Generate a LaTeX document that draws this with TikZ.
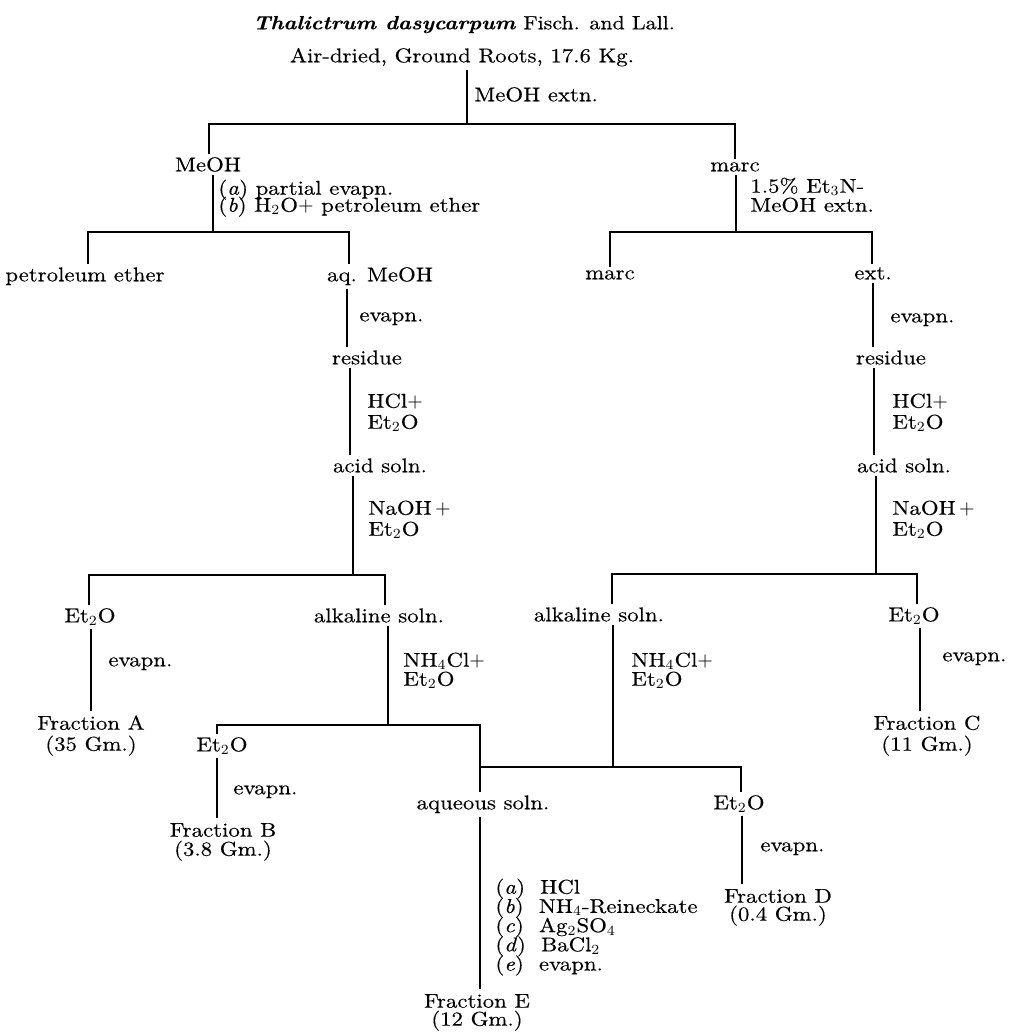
\documentclass[tikz,border=0pt]{standalone}
\usepackage{fontspec}
\setmainfont{lmroman10-regular.otf}[
  BoldFont=lmroman10-bold.otf,
  ItalicFont=lmroman10-italic.otf,
  BoldItalicFont=lmroman10-bolditalic.otf,
  FakeStretch=1.14,
  FakeBold=0.3]
\newcommand\myfirst{\rule{0pt}{7.5pt}}
\newcommand\mysp[1]{\fontsize{10}{#1}\selectfont\lineskiplimit=-100pt\relax}
\begin{document}
\begin{tikzpicture}[x=0.5pt,y=-0.5pt,
  every node/.style={inner sep=1.5pt, font=\fontsize{10}{12}\selectfont},
  lbl/.style={anchor=mid west, inner sep=0pt},
  txt/.style={anchor=mid},
  lab/.style={anchor=north west, align=left, inner sep=0pt, font=\mysp{#1}},
  frac/.style={anchor=north, align=center, inner sep=1.5pt, font=\mysp{#1}},
  ln/.style={line width=0.55pt}]
\useasboundingbox (0,0) rectangle (1009,1033);

% top
\node[txt, font=\fontsize{9.6}{12}\selectfont] (title) at (464,25) {\textbf{\textit{Thalictrum dasycarpum}} Fisch. and Lall.};
\node[txt] (air) at (462,58) {Air-dried, Ground Roots, 17.6 Kg.};
\node[lbl] (l1) at (474,97) {MeOH extn.};
\coordinate (b1) at (467,124);
\coordinate (b1L) at (209,124);
\coordinate (b1R) at (735,124);
\node[txt] (meoh1) at (208,167) {MeOH};
\node[txt] (marc1) at (735,167) {marc};
\draw[ln] (air.south -| b1) -- (b1);
\draw[ln] (meoh1.north -| b1L) -- (b1L) -- (b1R) -- (marc1.north -| b1R);

% left branch
\node[lab=8.5pt] (l2) at (218,179.3) {\myfirst(\textit{a}) partial evapn.\\(\textit{b}) H$_2$O$+$ petroleum ether};
\coordinate (b2) at (213,232);
\coordinate (b2L) at (88,232);
\coordinate (b2R) at (349,232);
\node[txt] (petrol) at (85,277) {petroleum ether};
\node[txt] (aqmeoh) at (380,277) {aq. MeOH};
\draw[ln] (meoh1.south -| b2) -- (b2);
\draw[ln] (petrol.north -| b2L) -- (b2L) -- (b2R) -- (aqmeoh.north -| b2R);

\node[lbl] (e1) at (359,317) {evapn.};
\node[txt] (res1) at (367,360) {residue};
\draw[ln] (aqmeoh.south -| 347,0) -- (res1.north -| 347,0);
\node[lab=10.5pt] (h1) at (367,392.3) {\myfirst HCl$+$\\Et$_2$O};
\node[txt] (acid1) at (380,468) {acid soln.};
\draw[ln] (res1.south -| 350,0) -- (acid1.north -| 350,0);
\node[lab=10.5pt] (n1) at (368,499.3) {\myfirst NaOH\,$+$\\Et$_2$O};
\coordinate (b4) at (353,575);
\coordinate (b4L) at (89,575);
\coordinate (b4R) at (385,575);
\node[txt] (et2oA) at (90,618) {Et$_2$O};
\node[txt] (alk1) at (379,618) {alkaline soln.};
\draw[ln] (acid1.south -| b4) -- (b4);
\draw[ln] (et2oA.north -| b4L) -- (b4L) -- (b4R) -- (alk1.north -| b4R);

\node[lbl] (e2) at (108,662) {evapn.};
\node[frac=10.5pt] (fracA) at (91,711.3) {\myfirst Fraction A\\(35 Gm.)};
\draw[ln] (et2oA.south -| 91,0) -- (fracA.north -| 91,0);

\node[lab=9.5pt] (k1) at (403,651.3) {\myfirst NH$_4$Cl$+$\\Et$_2$O};
\coordinate (b5) at (388,725);
\coordinate (b5L) at (217,725);
\coordinate (b5R) at (480,725);
\node[txt] (et2oB) at (222,747) {Et$_2$O};
\node[txt] (aq) at (483,805) {aqueous soln.};
\draw[ln] (alk1.south -| b5) -- (b5);
\draw[ln] (et2oB.north -| b5L) -- (b5L) -- (b5R) -- (aq.north -| b5R);

\node[lbl] (e3) at (233,790) {evapn.};
\node[frac=9.5pt] (fracB) at (223,818.3) {\myfirst Fraction B\\(3.8 Gm.)};
\draw[ln] (et2oB.south -| 217,0) -- (fracB.north -| 217,0);

% right branch
\node[lab=9.5pt] (l3) at (750,177.3) {\myfirst 1.5\% Et$_3$N-\\MeOH extn.};
\coordinate (b3) at (736,232);
\coordinate (b3L) at (610,232);
\coordinate (b3R) at (872,232);
\node[txt] (marc2) at (610,275) {marc};
\node[txt] (ext) at (873,275) {ext.};
\draw[ln] (marc1.south -| b3) -- (b3);
\draw[ln] (marc2.north -| b3L) -- (b3L) -- (b3R) -- (ext.north -| b3R);

\node[lbl] (e4) at (890,318) {evapn.};
\node[txt] (res2) at (891,360) {residue};
\draw[ln] (ext.south -| 873,0) -- (res2.north -| 873,0);
\node[lab=10.5pt] (h2) at (892,392.3) {\myfirst HCl$+$\\Et$_2$O};
\node[txt] (acid2) at (904,468) {acid soln.};
\draw[ln] (res2.south -| 874,0) -- (acid2.north -| 874,0);
\node[lab=10.5pt] (n2) at (892,499.3) {\myfirst NaOH\,$+$\\Et$_2$O};
\coordinate (b6) at (876,574);
\coordinate (b6L) at (612,574);
\coordinate (b6R) at (917,574);
\node[txt] (alk2) at (599,617) {alkaline soln.};
\node[txt] (et2oC) at (914,617) {Et$_2$O};
\draw[ln] (acid2.south -| b6) -- (b6);
\draw[ln] (alk2.north -| b6L) -- (b6L) -- (b6R) -- (et2oC.north -| b6R);

\node[lbl] (e5) at (942,657) {evapn.};
\node[frac=10.5pt] (fracC) at (927,711.3) {\myfirst Fraction C\\(11 Gm.)};
\draw[ln] (et2oC.south -| 920,0) -- (fracC.north -| 920,0);

\node[lab=9.5pt] (k2) at (631,651.3) {\myfirst NH$_4$Cl$+$\\Et$_2$O};
\coordinate (b7) at (613,767);
\coordinate (b7L) at (480,767);
\coordinate (b7R) at (741,767);
\node[txt] (et2oD) at (739,805) {Et$_2$O};
\draw[ln] (alk2.south -| b7) -- (b7);
\draw[ln] (b7L) -- (b7R) -- (et2oD.north -| b7R);

\node[lbl] (e6) at (760,847) {evapn.};
\node[frac=9pt] (fracD) at (778,884.3) {\myfirst Fraction D\\(0.4 Gm.)};
\draw[ln] (et2oD.south -| 742,0) -- (fracD.north -| 742,0);

% bottom
\node[lab=9.6pt] (steps) at (495,878.3) {\myfirst(\textit{a})\ \ HCl\\(\textit{b})\ \ NH$_4$-Reineckate\\(\textit{c})\ \ Ag$_2$SO$_4$\\(\textit{d})\ \ BaCl$_2$\\(\textit{e})\ \ evapn.};
\node[frac=9pt] (fracE) at (477,989.3) {\myfirst Fraction E\\(12 Gm.)};
\draw[ln] (aq.south -| 480,0) -- (fracE.north -| 480,0);
\end{tikzpicture}
\end{document}
